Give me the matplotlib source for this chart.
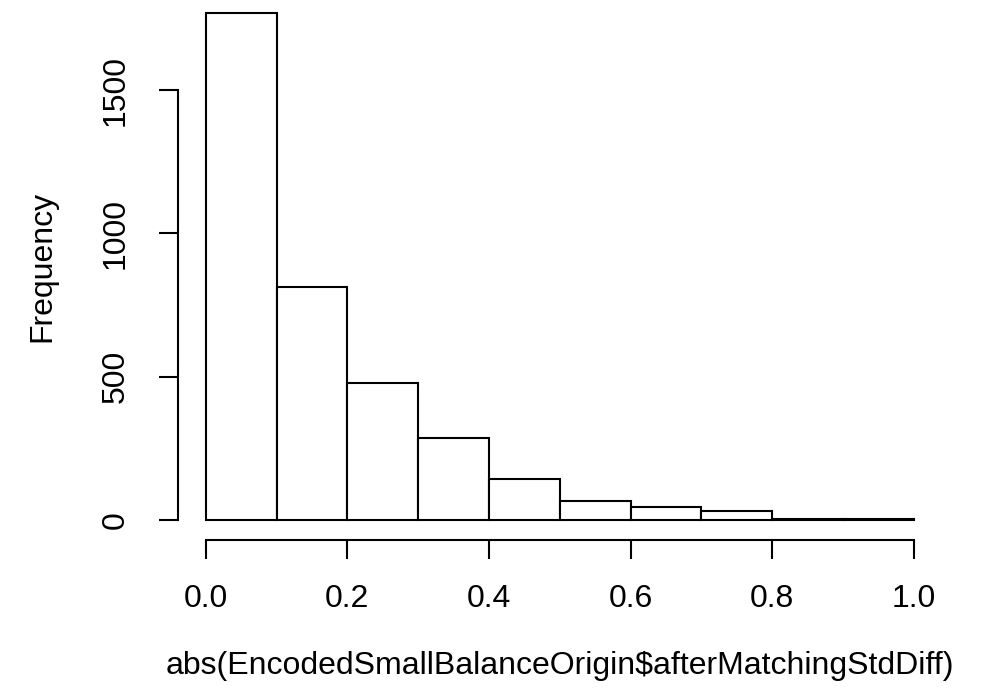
import matplotlib
matplotlib.use("Agg")
import matplotlib.pyplot as plt
import numpy as np

# Histogram bins (0.1 wide) and counts
bin_edges = [0.0, 0.1, 0.2, 0.3, 0.4, 0.5, 0.6, 0.7, 0.8, 0.9, 1.0]
counts = [1768, 813, 478, 286, 143, 66, 43, 32, 3, 2]
x_ticks = [0.0, 0.2, 0.4, 0.6, 0.8, 1.0]
y_ticks = [0, 500, 1000, 1500]

plt.rcParams['font.family'] = ['Liberation Sans', 'DejaVu Sans']

fig = plt.figure(figsize=(10.07, 6.97), dpi=100)
W, H = 1007, 697
left, right, bottom, top = 177.5, 942, 540, -7
ax = fig.add_axes([left / W, (H - bottom) / H, (right - left) / W, (bottom - top) / H])

lefts = bin_edges[:-1]
widths = np.diff(bin_edges)
ax.bar(lefts, counts, width=widths, align='edge', color='white',
       edgecolor='black', linewidth=1.5)

ymax = max(counts)
ax.set_xlim(-0.04, 1.04)
ax.set_ylim(-0.04 * ymax, 1.04 * ymax)

for s in ['top', 'right']:
    ax.spines[s].set_visible(False)
ax.spines['left'].set_bounds(0, 1500)
ax.spines['bottom'].set_bounds(0, 1)
ax.spines['left'].set_linewidth(1.5)
ax.spines['bottom'].set_linewidth(1.5)

ax.set_xticks(x_ticks)
ax.set_xticklabels(['0.0', '0.2', '0.4', '0.6', '0.8', '1.0'])
ax.set_yticks(y_ticks)
ax.set_yticklabels([str(v) for v in y_ticks], rotation=90, va='center')
ax.tick_params(length=14, width=1.5, labelsize=23)
ax.tick_params(axis='x', pad=18)
ax.tick_params(axis='y', pad=20)

ax.set_ylabel('Frequency', fontsize=23, labelpad=31)
ax.set_xlabel('abs(EncodedSmallBalanceOrigin$afterMatchingStdDiff)', fontsize=23, labelpad=26)

fig.savefig('out.png', dpi=100)
